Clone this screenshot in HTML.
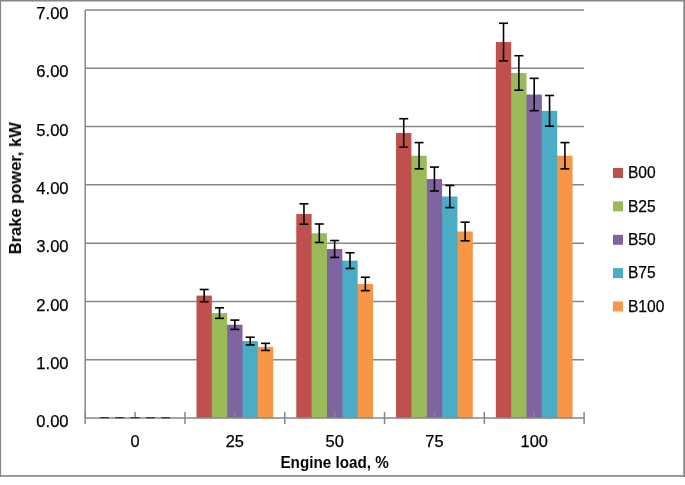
<!DOCTYPE html>
<html><head><meta charset="utf-8"><style>
html,body{margin:0;padding:0;background:#fff;}
body{width:685px;height:485px;overflow:hidden;}
svg{display:block;}
text{will-change:transform;}
.t{font-family:"Liberation Sans",sans-serif;font-size:16px;fill:#000;stroke:#000;stroke-width:0.25px;}
.b{font-family:"Liberation Sans",sans-serif;font-size:16px;font-weight:bold;fill:#000;}
</style></head><body>
<svg width="685" height="485" viewBox="0 0 685 485">
<rect x="0" y="0" width="685" height="1.5" fill="#868686"/>
<rect x="0" y="0" width="1.1" height="477" fill="#868686"/>
<rect x="683.3" y="0" width="1.7" height="477" fill="#868686"/>
<rect x="0" y="475.1" width="685" height="1.7" fill="#8a8a8a"/>
<line x1="85.2" y1="359.71" x2="584.1" y2="359.71" stroke="#868686" stroke-width="1.5"/>
<line x1="85.2" y1="301.43" x2="584.1" y2="301.43" stroke="#868686" stroke-width="1.5"/>
<line x1="85.2" y1="243.14" x2="584.1" y2="243.14" stroke="#868686" stroke-width="1.5"/>
<line x1="85.2" y1="184.86" x2="584.1" y2="184.86" stroke="#868686" stroke-width="1.5"/>
<line x1="85.2" y1="126.57" x2="584.1" y2="126.57" stroke="#868686" stroke-width="1.5"/>
<line x1="85.2" y1="68.29" x2="584.1" y2="68.29" stroke="#868686" stroke-width="1.5"/>
<line x1="85.2" y1="10.00" x2="584.1" y2="10.00" stroke="#868686" stroke-width="1.5"/>
<rect x="257.30" y="346.89" width="15.95" height="71.11" fill="#F79646"/>
<rect x="241.95" y="341.06" width="15.95" height="76.94" fill="#4BACC6"/>
<rect x="226.59" y="324.74" width="15.95" height="93.26" fill="#8064A2"/>
<rect x="211.24" y="313.09" width="15.95" height="104.91" fill="#9BBB59"/>
<rect x="196.49" y="295.60" width="15.35" height="122.40" fill="#C0504D"/>
<rect x="357.08" y="283.94" width="15.95" height="134.06" fill="#F79646"/>
<rect x="341.73" y="260.63" width="15.95" height="157.37" fill="#4BACC6"/>
<rect x="326.37" y="248.97" width="15.95" height="169.03" fill="#8064A2"/>
<rect x="311.02" y="233.23" width="15.95" height="184.77" fill="#9BBB59"/>
<rect x="296.27" y="214.00" width="15.35" height="204.00" fill="#C0504D"/>
<rect x="456.86" y="231.49" width="15.95" height="186.51" fill="#F79646"/>
<rect x="441.51" y="196.51" width="15.95" height="221.49" fill="#4BACC6"/>
<rect x="426.15" y="179.03" width="15.95" height="238.97" fill="#8064A2"/>
<rect x="410.80" y="155.71" width="15.95" height="262.29" fill="#9BBB59"/>
<rect x="396.05" y="132.98" width="15.35" height="285.02" fill="#C0504D"/>
<rect x="556.64" y="155.71" width="15.95" height="262.29" fill="#F79646"/>
<rect x="541.29" y="110.83" width="15.95" height="307.17" fill="#4BACC6"/>
<rect x="525.93" y="94.51" width="15.95" height="323.49" fill="#8064A2"/>
<rect x="510.58" y="72.95" width="15.95" height="345.05" fill="#9BBB59"/>
<rect x="495.83" y="42.06" width="15.35" height="375.94" fill="#C0504D"/>
<line x1="135.09" y1="412" x2="135.09" y2="418.0" stroke="#868686" stroke-width="1.5"/>
<line x1="234.87" y1="412" x2="234.87" y2="418.0" stroke="#868686" stroke-width="1.5"/>
<line x1="334.65" y1="412" x2="334.65" y2="418.0" stroke="#868686" stroke-width="1.5"/>
<line x1="434.43" y1="412" x2="434.43" y2="418.0" stroke="#868686" stroke-width="1.5"/>
<line x1="534.21" y1="412" x2="534.21" y2="418.0" stroke="#868686" stroke-width="1.5"/>
<line x1="85.2" y1="10.0" x2="85.2" y2="418.0" stroke="#868686" stroke-width="1.5"/>
<line x1="85.2" y1="418.0" x2="584.1" y2="418.0" stroke="#868686" stroke-width="1.5"/>
<line x1="85.20" y1="412" x2="85.20" y2="424" stroke="#868686" stroke-width="1.5"/>
<line x1="184.98" y1="412" x2="184.98" y2="424" stroke="#868686" stroke-width="1.5"/>
<line x1="284.76" y1="412" x2="284.76" y2="424" stroke="#868686" stroke-width="1.5"/>
<line x1="384.54" y1="412" x2="384.54" y2="424" stroke="#868686" stroke-width="1.5"/>
<line x1="484.32" y1="412" x2="484.32" y2="424" stroke="#868686" stroke-width="1.5"/>
<line x1="584.10" y1="412" x2="584.10" y2="424" stroke="#868686" stroke-width="1.5"/>
<line x1="99.89" y1="417.7" x2="108.89" y2="417.7" stroke="#3a3a3a" stroke-width="1.3"/>
<line x1="115.24" y1="417.7" x2="124.24" y2="417.7" stroke="#3a3a3a" stroke-width="1.3"/>
<line x1="130.59" y1="417.7" x2="139.59" y2="417.7" stroke="#3a3a3a" stroke-width="1.3"/>
<line x1="145.94" y1="417.7" x2="154.94" y2="417.7" stroke="#3a3a3a" stroke-width="1.3"/>
<line x1="161.29" y1="417.7" x2="170.29" y2="417.7" stroke="#3a3a3a" stroke-width="1.3"/>
<line x1="204.17" y1="289.48" x2="204.17" y2="301.72" stroke="#000" stroke-width="1.6"/>
<line x1="199.67" y1="289.48" x2="208.67" y2="289.48" stroke="#000" stroke-width="1.6"/>
<line x1="199.67" y1="301.72" x2="208.67" y2="301.72" stroke="#000" stroke-width="1.6"/>
<line x1="219.52" y1="307.84" x2="219.52" y2="318.33" stroke="#000" stroke-width="1.6"/>
<line x1="215.02" y1="307.84" x2="224.02" y2="307.84" stroke="#000" stroke-width="1.6"/>
<line x1="215.02" y1="318.33" x2="224.02" y2="318.33" stroke="#000" stroke-width="1.6"/>
<line x1="234.87" y1="320.08" x2="234.87" y2="329.41" stroke="#000" stroke-width="1.6"/>
<line x1="230.37" y1="320.08" x2="239.37" y2="320.08" stroke="#000" stroke-width="1.6"/>
<line x1="230.37" y1="329.41" x2="239.37" y2="329.41" stroke="#000" stroke-width="1.6"/>
<line x1="250.22" y1="337.22" x2="250.22" y2="344.91" stroke="#000" stroke-width="1.6"/>
<line x1="245.72" y1="337.22" x2="254.72" y2="337.22" stroke="#000" stroke-width="1.6"/>
<line x1="245.72" y1="344.91" x2="254.72" y2="344.91" stroke="#000" stroke-width="1.6"/>
<line x1="265.57" y1="343.34" x2="265.57" y2="350.45" stroke="#000" stroke-width="1.6"/>
<line x1="261.07" y1="343.34" x2="270.07" y2="343.34" stroke="#000" stroke-width="1.6"/>
<line x1="261.07" y1="350.45" x2="270.07" y2="350.45" stroke="#000" stroke-width="1.6"/>
<line x1="303.95" y1="203.80" x2="303.95" y2="224.20" stroke="#000" stroke-width="1.6"/>
<line x1="299.45" y1="203.80" x2="308.45" y2="203.80" stroke="#000" stroke-width="1.6"/>
<line x1="299.45" y1="224.20" x2="308.45" y2="224.20" stroke="#000" stroke-width="1.6"/>
<line x1="319.30" y1="224.00" x2="319.30" y2="242.47" stroke="#000" stroke-width="1.6"/>
<line x1="314.80" y1="224.00" x2="323.80" y2="224.00" stroke="#000" stroke-width="1.6"/>
<line x1="314.80" y1="242.47" x2="323.80" y2="242.47" stroke="#000" stroke-width="1.6"/>
<line x1="334.65" y1="240.52" x2="334.65" y2="257.42" stroke="#000" stroke-width="1.6"/>
<line x1="330.15" y1="240.52" x2="339.15" y2="240.52" stroke="#000" stroke-width="1.6"/>
<line x1="330.15" y1="257.42" x2="339.15" y2="257.42" stroke="#000" stroke-width="1.6"/>
<line x1="350.00" y1="252.76" x2="350.00" y2="268.50" stroke="#000" stroke-width="1.6"/>
<line x1="345.50" y1="252.76" x2="354.50" y2="252.76" stroke="#000" stroke-width="1.6"/>
<line x1="345.50" y1="268.50" x2="354.50" y2="268.50" stroke="#000" stroke-width="1.6"/>
<line x1="365.35" y1="277.24" x2="365.35" y2="290.65" stroke="#000" stroke-width="1.6"/>
<line x1="360.85" y1="277.24" x2="369.85" y2="277.24" stroke="#000" stroke-width="1.6"/>
<line x1="360.85" y1="290.65" x2="369.85" y2="290.65" stroke="#000" stroke-width="1.6"/>
<line x1="403.73" y1="118.73" x2="403.73" y2="147.23" stroke="#000" stroke-width="1.6"/>
<line x1="399.23" y1="118.73" x2="408.23" y2="118.73" stroke="#000" stroke-width="1.6"/>
<line x1="399.23" y1="147.23" x2="408.23" y2="147.23" stroke="#000" stroke-width="1.6"/>
<line x1="419.08" y1="142.60" x2="419.08" y2="168.83" stroke="#000" stroke-width="1.6"/>
<line x1="414.58" y1="142.60" x2="423.58" y2="142.60" stroke="#000" stroke-width="1.6"/>
<line x1="414.58" y1="168.83" x2="423.58" y2="168.83" stroke="#000" stroke-width="1.6"/>
<line x1="434.43" y1="167.08" x2="434.43" y2="190.98" stroke="#000" stroke-width="1.6"/>
<line x1="429.93" y1="167.08" x2="438.93" y2="167.08" stroke="#000" stroke-width="1.6"/>
<line x1="429.93" y1="190.98" x2="438.93" y2="190.98" stroke="#000" stroke-width="1.6"/>
<line x1="449.78" y1="185.44" x2="449.78" y2="207.59" stroke="#000" stroke-width="1.6"/>
<line x1="445.28" y1="185.44" x2="454.28" y2="185.44" stroke="#000" stroke-width="1.6"/>
<line x1="445.28" y1="207.59" x2="454.28" y2="207.59" stroke="#000" stroke-width="1.6"/>
<line x1="465.13" y1="222.16" x2="465.13" y2="240.81" stroke="#000" stroke-width="1.6"/>
<line x1="460.63" y1="222.16" x2="469.63" y2="222.16" stroke="#000" stroke-width="1.6"/>
<line x1="460.63" y1="240.81" x2="469.63" y2="240.81" stroke="#000" stroke-width="1.6"/>
<line x1="503.51" y1="23.26" x2="503.51" y2="60.85" stroke="#000" stroke-width="1.6"/>
<line x1="499.01" y1="23.26" x2="508.01" y2="23.26" stroke="#000" stroke-width="1.6"/>
<line x1="499.01" y1="60.85" x2="508.01" y2="60.85" stroke="#000" stroke-width="1.6"/>
<line x1="518.86" y1="55.70" x2="518.86" y2="90.20" stroke="#000" stroke-width="1.6"/>
<line x1="514.36" y1="55.70" x2="523.36" y2="55.70" stroke="#000" stroke-width="1.6"/>
<line x1="514.36" y1="90.20" x2="523.36" y2="90.20" stroke="#000" stroke-width="1.6"/>
<line x1="534.21" y1="78.34" x2="534.21" y2="110.69" stroke="#000" stroke-width="1.6"/>
<line x1="529.71" y1="78.34" x2="538.71" y2="78.34" stroke="#000" stroke-width="1.6"/>
<line x1="529.71" y1="110.69" x2="538.71" y2="110.69" stroke="#000" stroke-width="1.6"/>
<line x1="549.56" y1="95.48" x2="549.56" y2="126.19" stroke="#000" stroke-width="1.6"/>
<line x1="545.06" y1="95.48" x2="554.06" y2="95.48" stroke="#000" stroke-width="1.6"/>
<line x1="545.06" y1="126.19" x2="554.06" y2="126.19" stroke="#000" stroke-width="1.6"/>
<line x1="564.91" y1="142.60" x2="564.91" y2="168.83" stroke="#000" stroke-width="1.6"/>
<line x1="560.41" y1="142.60" x2="569.41" y2="142.60" stroke="#000" stroke-width="1.6"/>
<line x1="560.41" y1="168.83" x2="569.41" y2="168.83" stroke="#000" stroke-width="1.6"/>
<text x="68.6" y="427.20" text-anchor="end" class="t" style="font-size:16.6px">0.00</text>
<text x="68.6" y="368.91" text-anchor="end" class="t" style="font-size:16.6px">1.00</text>
<text x="68.6" y="310.63" text-anchor="end" class="t" style="font-size:16.6px">2.00</text>
<text x="68.6" y="252.34" text-anchor="end" class="t" style="font-size:16.6px">3.00</text>
<text x="68.6" y="194.06" text-anchor="end" class="t" style="font-size:16.6px">4.00</text>
<text x="68.6" y="135.77" text-anchor="end" class="t" style="font-size:16.6px">5.00</text>
<text x="68.6" y="77.49" text-anchor="end" class="t" style="font-size:16.6px">6.00</text>
<text x="68.6" y="19.20" text-anchor="end" class="t" style="font-size:16.6px">7.00</text>
<text x="135.09" y="447.2" text-anchor="middle" class="t" style="font-size:16.4px">0</text>
<text x="234.87" y="447.2" text-anchor="middle" class="t" style="font-size:16.4px">25</text>
<text x="334.65" y="447.2" text-anchor="middle" class="t" style="font-size:16.4px">50</text>
<text x="434.43" y="447.2" text-anchor="middle" class="t" style="font-size:16.4px">75</text>
<text x="534.21" y="447.2" text-anchor="middle" class="t" style="font-size:16.4px">100</text>
<text x="334.6" y="468.3" text-anchor="middle" class="b" textLength="108.3" lengthAdjust="spacingAndGlyphs">Engine load, %</text>
<text transform="translate(21,188.3) rotate(-90)" x="0" y="0" text-anchor="middle" class="b" textLength="132" lengthAdjust="spacingAndGlyphs">Brake power, kW</text>
<rect x="613" y="168.0" width="10" height="10" fill="#C0504D"/>
<text x="627.9" y="178.10" class="t" style="font-size:15.6px">B00</text>
<rect x="613" y="201.4" width="10" height="10" fill="#9BBB59"/>
<text x="627.9" y="211.50" class="t" style="font-size:15.6px">B25</text>
<rect x="613" y="234.8" width="10" height="10" fill="#8064A2"/>
<text x="627.9" y="244.90" class="t" style="font-size:15.6px">B50</text>
<rect x="613" y="268.1" width="10" height="10" fill="#4BACC6"/>
<text x="627.9" y="278.20" class="t" style="font-size:15.6px">B75</text>
<rect x="613" y="301.5" width="10" height="10" fill="#F79646"/>
<text x="627.9" y="311.60" class="t" style="font-size:15.6px">B100</text>
</svg>
</body></html>
